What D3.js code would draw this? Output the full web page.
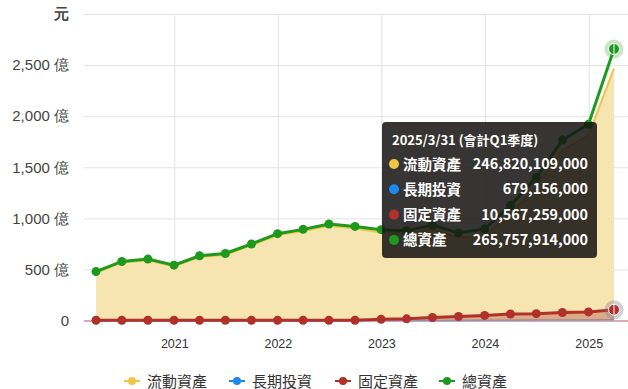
<!DOCTYPE html>
<html>
<head>
<meta charset="utf-8">
<script src="https://cdn.jsdelivr.net/npm/d3@7"></script>
<style>
  html, body { margin: 0; padding: 0; background: #fff; }
  svg { display: block; font-family: "Noto Sans CJK TC", "Noto Sans", sans-serif; }
</style>
</head>
<body>
<svg id="chart" width="628" height="389"></svg>
<script>
// quarter ends, 2020Q1 .. 2025Q1
const quarters = [
  '2020-03-31', '2020-06-30', '2020-09-30', '2020-12-31',
  '2021-03-31', '2021-06-30', '2021-09-30', '2021-12-31',
  '2022-03-31', '2022-06-30', '2022-09-30', '2022-12-31',
  '2023-03-31', '2023-06-30', '2023-09-30', '2023-12-31',
  '2024-03-31', '2024-06-30', '2024-09-30', '2024-12-31',
  '2025-03-31',
];

// values in 億元
const currentAssets = [468, 567, 590, 531, 622, 643, 735, 836, 876, 928, 902, 862,
  850, 893, 810, 830, 1045, 1310, 1670, 1810, 2468.20109];
const longTermInvest = [0.5, 0.5, 0.5, 0.5, 0.5, 0.5, 0.5, 0.5, 0.5, 0.5, 0.5, 0.5,
  0.5, 1, 1, 2, 3, 4, 5, 6, 6.79156];
const fixedAssets = [2, 2, 2, 2, 2, 2, 2, 2, 2, 2, 2, 12,
  16, 29, 39, 50, 64, 67, 78, 84, 105.67259];
const totalAssets = [479, 578, 601, 542, 634, 656, 749, 850, 892, 945, 921, 889,
  879, 935, 857, 896, 1125, 1400, 1766, 1920, 2657.57914];

const yTicks = [0, 500, 1000, 1500, 2000, 2500, 3000];
const yearTicks = ['2021-01-01', '2022-01-01', '2023-01-01', '2024-01-01', '2025-01-01'];

const seriesNames = ['流動資產', '長期投資', '固定資產', '總資產'];
const seriesColors = ['#f0c445', '#1e88f0', '#b0302a', '#1d9a1d'];

const parse = d3.timeParse('%Y-%m-%d');
const dates = quarters.map(parse);

const svg = d3.select('#chart');
const margin = { left: 84, right: 628, top: 14, bottom: 320.5 };

const x = d3.scaleTime()
  .domain([dates[0], dates[dates.length - 1]])
  .range([96, 614]);
const y = d3.scaleLinear().domain([0, 3000]).range([margin.bottom, margin.top]);

// horizontal grid + y labels
const yAxis = svg.append('g')
  .attr('transform', `translate(${margin.left},0)`)
  .call(d3.axisLeft(y).tickValues(yTicks)
    .tickSize(-(margin.right - margin.left))
    .tickPadding(15)
    .tickFormat((d) => (d === 3000 ? '元' : d === 0 ? '0' : `${d3.format(',')(d)} 億`)));
yAxis.select('.domain').remove();
yAxis.selectAll('line').attr('stroke', '#e3e3e3');
yAxis.selectAll('text')
  .attr('fill', '#444')
  .style('font-size', '15px')
  .style('font-weight', (d) => (d === 3000 ? 'bold' : 'normal'));

// vertical grid + x labels
const xAxis = svg.append('g')
  .attr('transform', `translate(0,${margin.bottom})`)
  .call(d3.axisBottom(x).tickValues(yearTicks.map(parse))
    .tickSize(-(margin.bottom - margin.top))
    .tickPadding(19)
    .tickFormat(d3.timeFormat('%Y')));
xAxis.select('.domain').remove();
xAxis.selectAll('line').attr('stroke', '#e3e3e3');
xAxis.selectAll('text').attr('fill', '#333').style('font-size', '12.5px');

// zero line
svg.append('line')
  .attr('x1', margin.left).attr('x2', margin.right)
  .attr('y1', y(0) + 0.5).attr('y2', y(0) + 0.5)
  .attr('stroke', '#dcaab4').attr('stroke-width', 2);

const area = d3.area().x((d, i) => x(dates[i])).y0(y(0)).y1((d) => y(d));
const line = d3.line().x((d, i) => x(dates[i])).y((d) => y(d));

// 流動資產
svg.append('path').datum(currentAssets)
  .attr('d', area).attr('fill', '#f6e3ad').attr('fill-opacity', 0.95);
svg.append('path').datum(currentAssets)
  .attr('d', line).attr('fill', 'none').attr('stroke', '#f0c445').attr('stroke-width', 2);

// 長期投資 (sits under the fixed asset area)
svg.append('path').datum(longTermInvest)
  .attr('d', line).attr('fill', 'none').attr('stroke', seriesColors[1])
  .attr('stroke-width', 1.5).attr('stroke-opacity', 0.5);

// 固定資產
svg.append('path').datum(fixedAssets)
  .attr('d', area).attr('fill', '#b0302a').attr('fill-opacity', 0.32);
svg.append('path').datum(fixedAssets)
  .attr('d', line).attr('fill', 'none').attr('stroke', seriesColors[2]).attr('stroke-width', 3);
svg.append('g').selectAll('circle').data(fixedAssets).join('circle')
  .attr('cx', (d, i) => x(dates[i])).attr('cy', (d) => y(d))
  .attr('r', 4.5).attr('fill', seriesColors[2]);

// 總資產
svg.append('path').datum(totalAssets)
  .attr('d', line).attr('fill', 'none').attr('stroke', seriesColors[3]).attr('stroke-width', 3);
svg.append('g').selectAll('circle').data(totalAssets).join('circle')
  .attr('cx', (d, i) => x(dates[i])).attr('cy', (d) => y(d))
  .attr('r', 4.5).attr('fill', seriesColors[3]);

// hover state on the last point
const last = dates.length - 1;
[[totalAssets, seriesColors[3], 'rgba(29,154,29,0.25)'], [fixedAssets, seriesColors[2], 'rgba(120,120,150,0.35)']]
  .forEach(([s, c, halo]) => {
    const cx = x(dates[last]);
    const cy = y(s[last]);
    svg.append('circle').attr('cx', cx).attr('cy', cy).attr('r', 9.5).attr('fill', halo);
    svg.append('circle').attr('cx', cx).attr('cy', cy).attr('r', 5.5)
      .attr('fill', c).attr('stroke', '#fff').attr('stroke-width', 1);
    svg.append('line').attr('x1', cx).attr('x2', cx).attr('y1', cy - 5).attr('y2', cy + 5)
      .attr('stroke', '#fff').attr('stroke-width', 1);
  });

// tooltip
const tip = svg.append('g').attr('transform', 'translate(382,122)');
tip.append('rect').attr('width', 215).attr('height', 136).attr('rx', 4)
  .attr('fill', 'rgba(22,20,18,0.86)');
tip.append('text').attr('x', 10).attr('y', 23)
  .attr('fill', '#fff').style('font-size', '13px').style('font-weight', 'bold')
  .text('2025/3/31 (會計Q1季度)');
const tipValues = [currentAssets, longTermInvest, fixedAssets, totalAssets].map((s) => s[last]);
tipValues.forEach((v, i) => {
  const cy = 42 + i * 25.3;
  tip.append('circle').attr('cx', 12).attr('cy', cy).attr('r', 5).attr('fill', seriesColors[i]);
  tip.append('text').attr('x', 21).attr('y', cy + 5.5)
    .attr('fill', '#fff').style('font-size', '14.5px').style('font-weight', 'bold')
    .text(seriesNames[i]);
  tip.append('text').attr('x', 206).attr('y', cy + 5)
    .attr('fill', '#fff').attr('text-anchor', 'end')
    .style('font-size', '14.3px').style('font-weight', 'bold')
    .text(d3.format(',.0f')(Math.round(v * 1e5) * 1e3));
});

// legend
const legendX = [132, 237, 343, 447];
const legend = svg.append('g').attr('transform', 'translate(0,381)');
seriesNames.forEach((name, i) => {
  const g = legend.append('g').attr('transform', `translate(${legendX[i]},0)`);
  g.append('line').attr('x1', -8).attr('x2', 8).attr('stroke', seriesColors[i]).attr('stroke-width', 2);
  g.append('circle').attr('r', 4).attr('fill', seriesColors[i]);
  g.append('text').attr('x', 15).attr('y', 5.5)
    .attr('fill', '#333').style('font-size', '15px').text(name);
});
</script>
</body>
</html>
